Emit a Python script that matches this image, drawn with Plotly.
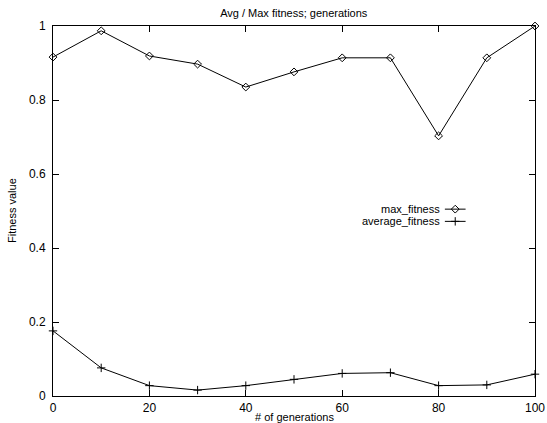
import plotly.graph_objects as go

generations = [0, 10, 20, 30, 40, 50, 60, 70, 80, 90, 100]
max_fitness = [0.916, 0.987, 0.919, 0.897, 0.835, 0.876, 0.914, 0.914, 0.703, 0.914, 1.0]
average_fitness = [0.176, 0.076, 0.028, 0.016, 0.028, 0.045, 0.061, 0.063, 0.028, 0.030, 0.059]
series_names = ["max_fitness", "average_fitness"]
x_ticks = [0, 20, 40, 60, 80, 100]
y_ticks = [0, 0.2, 0.4, 0.6, 0.8, 1]
y_tick_labels = ["0", "0.2", "0.4", "0.6", "0.8", "1"]

FONT = "Liberation Sans, Arial, sans-serif"
symbols = ["diamond-open", "cross-thin-open"]
sizes = [6, 6]

fig = go.Figure()
for name, vals, sym, sz in zip(series_names, [max_fitness, average_fitness], symbols, sizes):
    fig.add_trace(go.Scatter(
        x=generations, y=vals, mode="lines+markers", name=name,
        line=dict(color="black", width=1),
        marker=dict(symbol=sym, size=sz, color="black", line=dict(width=1, color="black")),
        showlegend=False, cliponaxis=False))

# gnuplot-style legend: text right-aligned, sample on the right
legend_y = [0.505, 0.472]
for i, nm in enumerate(series_names):
    fig.add_annotation(xref="paper", yref="paper", x=0.807, y=legend_y[i], text=nm,
                       showarrow=False, xanchor="right", yanchor="middle",
                       font=dict(family=FONT, size=11, color="black"))
    fig.add_shape(type="line", xref="paper", yref="paper", x0=0.813, x1=0.856,
                  y0=legend_y[i], y1=legend_y[i], line=dict(color="black", width=1))
    fig.add_trace(go.Scatter(
        x=[0.8345], y=[legend_y[i]], xaxis="x2", yaxis="y2", mode="markers",
        marker=dict(symbol=symbols[i], size=sizes[i], color="black", line=dict(width=1, color="black")),
        showlegend=False, hoverinfo="skip"))

# axis titles placed like gnuplot
fig.add_annotation(xref="paper", yref="paper", x=0.5, y=-0.056, text="# of generations",
                   showarrow=False, xanchor="center", yanchor="middle",
                   font=dict(family=FONT, size=11, color="black"))
fig.add_annotation(xref="paper", yref="paper", x=-0.085, y=0.5, text="Fitness value",
                   showarrow=False, xanchor="center", yanchor="middle", textangle=-90,
                   font=dict(family=FONT, size=11, color="black"))

fig.update_layout(
    width=547, height=423,
    margin=dict(l=53, r=12, t=26, b=27, autoexpand=False),
    paper_bgcolor="white", plot_bgcolor="white",
    title=dict(text="Avg / Max fitness; generations", x=0.537, xanchor="center", y=0.969, yanchor="middle",
               font=dict(family=FONT, size=11, color="black")),
    font=dict(family=FONT, size=11, color="black"),
    xaxis=dict(range=[0, 100], tickvals=x_ticks, ticks="inside", ticklen=6, tickcolor="black",
               showline=True, linecolor="black", linewidth=1, mirror="allticks", showgrid=False,
               zeroline=False, tickfont=dict(size=12), automargin=False, ticklabelstandoff=1),
    yaxis=dict(range=[0, 1], tickvals=y_ticks, ticktext=y_tick_labels, ticks="inside", ticklen=6,
               tickcolor="black", showline=True, linecolor="black", linewidth=1, mirror="allticks",
               showgrid=False, zeroline=False, tickfont=dict(size=12), automargin=False,
               ticklabelstandoff=4),
    xaxis2=dict(overlaying="x", range=[0, 1], visible=False),
    yaxis2=dict(overlaying="y", range=[0, 1], visible=False),
)

fig.write_html("out.html")
